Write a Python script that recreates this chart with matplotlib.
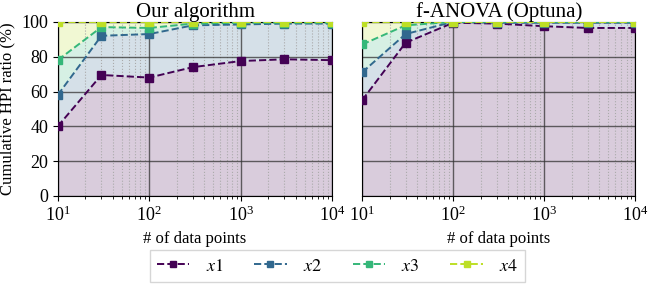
import numpy as np
from matplotlib import pyplot as plt

plt.rcParams['font.family'] = ['Liberation Serif', 'DejaVu Serif']
plt.rcParams['mathtext.fontset'] = 'stix'

n_points = [10, 30, 100, 300, 1000, 3000, 10000]
labels = ['$x1$', '$x2$', '$x3$', '$x4$']

# cumulative ratios
ours_x1 = [40, 69.5, 68, 74, 77.5, 78.5, 78]
ours_x2 = [58, 92, 93, 98, 98.5, 99, 99]
ours_x3 = [78, 97, 96.5, 99, 99.5, 99.5, 99.5]
ours_x4 = [100, 100, 100, 100, 100, 100, 100]

fanova_x1 = [55, 88, 99.5, 99, 97.5, 96.5, 96.5]
fanova_x2 = [71, 93, 100, 99.5, 99.5, 99.5, 99.5]
fanova_x3 = [87, 98, 100, 100, 100, 100, 100]
fanova_x4 = [100, 100, 100, 100, 100, 100, 100]

colors = [plt.cm.viridis(v) for v in [0.0, 0.333, 0.667, 0.9]]

fig = plt.figure(figsize=(6.49, 2.84), dpi=100)
ax1 = fig.add_axes([0.089, 0.31, 0.423, 0.613])
ax2 = fig.add_axes([0.558, 0.31, 0.421, 0.613])

panels = [(ax1, 'Our algorithm', [ours_x1, ours_x2, ours_x3, ours_x4]),
          (ax2, 'f-ANOVA (Optuna)', [fanova_x1, fanova_x2, fanova_x3, fanova_x4])]

handles = []
for ax, title, series in panels:
    prev = np.zeros(len(n_points))
    for k, s in enumerate(series):
        s = np.array(s)
        ax.fill_between(n_points, prev, s, color=colors[k], alpha=0.2, lw=0)
        h, = ax.plot(n_points, s, ls='--', marker='s', ms=5.5, lw=1.4,
                     color=colors[k], label=labels[k], zorder=3)
        if ax is ax1:
            handles.append(h)
        prev = s
    ax.set_xscale('log')
    ax.set_xlim(10, 10000)
    ax.set_ylim(0, 100)
    ax.set_yticks([0, 20, 40, 60, 80, 100])
    ax.set_title(title, fontsize=15, pad=3)
    ax.set_xlabel('# of data points', fontsize=12)
    ax.tick_params(labelsize=13)
    ax.grid(which='major', color='#333333', lw=1.0, alpha=0.75)
    ax.grid(which='minor', axis='x', color='#aaaaaa', ls=':', lw=0.8)
    for sp in ax.spines.values():
        sp.set_linewidth(0.8)

ax1.set_ylabel('Cumulative HPI ratio (%)', fontsize=12)
ax2.set_yticklabels([])
ax2.tick_params(axis='y', length=0)

fig.legend(handles=handles, loc='center', bbox_to_anchor=(0.52, 0.063), ncol=4,
           fontsize=13, handlelength=1.8, handletextpad=0.9, columnspacing=1.7,
           markerscale=0.9, fancybox=False, edgecolor='#cccccc', borderpad=0.4)

fig.savefig('out.png', dpi=100)
